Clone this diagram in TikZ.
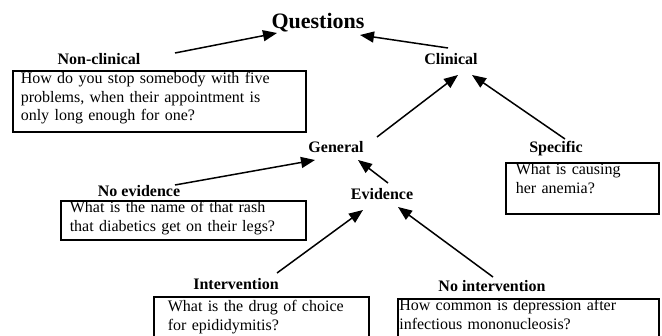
\documentclass[tikz,border=0pt]{standalone}
\usepackage{fontspec}
\setmainfont{Liberation Serif}
\usetikzlibrary{arrows.meta}
\begin{document}
\begin{tikzpicture}[x=1pt,y=1pt,
  lbl/.style={font=\fontsize{16}{18.5}\selectfont\bfseries, inner sep=0pt, anchor=base},
  qbox/.style={draw, line width=1.6pt, anchor=north west, inner ysep=0pt, align=left,
    font=\fontsize{16}{18.5}\selectfont},
  conn/.style={line width=1.5pt, -{Triangle[length=14pt,width=11pt]}}]
\path[use as bounding box, clip] (0,0) rectangle (662,-336);
\fill[white] (0,0) rectangle (662,-336);

% labels
\node[lbl, font=\fontsize{22}{26}\selectfont\bfseries] (q) at (318,-29) {Questions};
\node[lbl] (ncl) at (99,-65) {Non-clinical};
\node[lbl] (cl) at (451,-65) {Clinical};
\node[lbl] (gen) at (336,-153) {General};
\node[lbl] (spec) at (556,-153) {Specific};
\node[lbl] (noev) at (139,-197) {No evidence};
\node[lbl] (ev) at (382,-200) {Evidence};
\node[lbl] (int) at (236,-290) {Intervention};
\node[lbl] (noint) at (492,-292) {No intervention};

% boxes
\node[qbox, inner xsep=8pt, text width=277pt, text height=13pt, text depth=48pt] (b1) at (12,-70)
  {How do you stop somebody with five\\problems, when their appointment is\\only long enough for one?};
\node[qbox, inner xsep=9pt, text width=227pt, text height=12pt, text depth=27pt] (b2) at (60,-200)
  {What is the name of that rash\\that diabetics get on their legs?};
\node[qbox, inner xsep=10pt, text width=133pt, text height=12pt, text depth=39pt] (b3) at (505,-162)
  {What is causing\\her anemia?};
\node[qbox, inner xsep=14pt, text width=187pt, text height=15pt, text depth=40pt] (b4) at (153,-296)
  {What is the drug of choice\\for epididymitis?};
\node[qbox, inner xsep=1.5pt, text width=258pt, text height=12pt, text depth=40pt] (b5) at (397,-298)
  {How common is depression after\\infectious mononucleosis?};

% connectors
\draw[conn] ([shift={(76,12)}]ncl.base) -- ([shift={(-41,-4)}]q.base);
\draw[conn] ([shift={(-3,17)}]cl.base) -- ([shift={(42,-6)}]q.base);
\draw[conn] ([shift={(41,16)}]gen.base) -- ([shift={(7,-10)}]cl.base);
\draw[conn] ([shift={(9,14)}]spec.base) -- ([shift={(21,-10)}]cl.base);
\draw[conn] ([shift={(36,12)}]noev.base) -- ([shift={(-21,-7)}]gen.base);
\draw[conn] ([shift={(6,17)}]ev.base) -- ([shift={(22,-7)}]gen.base);
\draw[conn] ([shift={(41,17)}]int.base) -- ([shift={(-19,-10)}]ev.base);
\draw[conn] ([shift={(1,15)}]noint.base) -- ([shift={(16,-7)}]ev.base);
\end{tikzpicture}
\end{document}
